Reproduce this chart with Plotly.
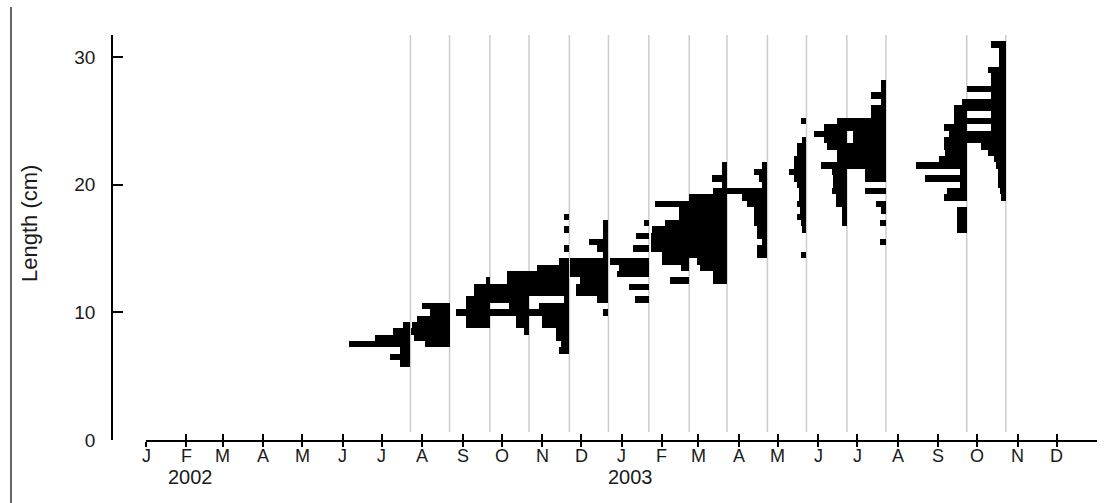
import pandas as pd
import plotly.graph_objects as go

# Length-frequency samples: sampling date, lower length class (cm) and
# counts per consecutive 0.5 cm class starting at that length.
sample_dates = [
    "2002-07-23", "2002-08-22", "2002-09-22", "2002-10-22", "2002-11-22",
    "2002-12-22", "2003-01-22", "2003-02-22", "2003-03-23", "2003-04-23",
    "2003-05-23", "2003-06-23", "2003-07-23", "2003-09-23", "2003-10-23",
]
first_class = [6.0, 7.5, 9.0, 8.5, 7.0, 10.0, 11.0, 12.5, 12.5, 14.5,
               14.5, 17.0, 15.5, 16.5, 19.0]
counts = [
    [10, 20, 10, 62, 35, 17, 7],
    [25, 36, 39, 38, 33, 20, 28],
    [24, 24, 34, 24, 24, 16, 16, 4],
    [5, 13, 13, 40, 20, 40, 40, 40, 22, 22],
    [10, 8, 13, 13, 27, 27, 40, 30, 5, 40, 40, 40, 40, 32, 10, 0, 5, 0, 0, 5, 0, 5],
    [5, 0, 11, 33, 33, 29, 39, 39, 39, 5, 11, 19, 5, 5, 5],
    [14, 0, 20, 0, 32, 30, 39, 0, 16, 0, 13, 0, 5],
    [19, 0, 8, 27, 27, 38, 38, 38, 37, 24, 10, 10, 34],
    [14, 14, 27, 30, 38, 38, 38, 38, 38, 38, 38, 38, 38, 38, 14, 5, 15, 5, 5],
    [10, 10, 5, 10, 10, 13, 13, 13, 20, 25, 40, 5, 8, 13, 5],
    [5, 0, 0, 0, 4, 5, 10, 6, 10, 8, 8, 10, 13, 18, 13, 13, 10, 10, 4, 0, 0, 5],
    [5, 5, 5, 11, 11, 15, 14, 14, 15, 26, 10, 10, 20, 23, 33, 23, 10],
    [6, 0, 0, 6, 0, 5, 10, 0, 21, 0, 21, 21, 40, 40, 40, 40, 33, 33, 40, 40,
     15, 15, 5, 15, 5, 5],
    [10, 10, 10, 10, 0, 23, 20, 7, 42, 7, 51, 28, 22, 23, 23, 18, 23, 13, 13, 13, 5],
    [5, 6, 8, 8, 8, 10, 12, 18, 25, 40, 40, 15, 40, 15, 40, 40, 15, 39, 15, 15,
     18, 7, 7, 7, 15],
]

month_letters = ["J", "F", "M", "A", "M", "J", "J", "A", "S", "O", "N", "D"]
year_labels = ["2002", "2003"]
y_ticks = [0, 10, 20, 30]

CLASS_WIDTH = 0.5          # cm
DAYS_PER_COUNT = 0.767     # horizontal extent of one count, in days
MS_PER_DAY = 86_400_000
Y_MAX = 31.74

W, H = 1110, 503
ML, MR, MT, MB = 112, 13, 35, 63
PW, PH = W - ML - MR, H - MT - MB
FONT = "Liberation Sans, Arial, Helvetica, sans-serif"
INK = "#1a1a1a"


def paper_y(px):
    """Convert a pixel row of the figure into paper coordinates."""
    return (MT + PH - px) / PH


fig = go.Figure()

# Histograms drawn as bars extending leftwards from each sampling date
for date, start, n in zip(sample_dates, first_class, counts):
    classes = [start + i * CLASS_WIDTH for i in range(len(n))]
    pairs = [(c, v) for c, v in zip(classes, n) if v > 0]
    fig.add_trace(go.Bar(
        orientation="h",
        y=[c for c, _ in pairs],
        x=[-v * DAYS_PER_COUNT * MS_PER_DAY for _, v in pairs],
        base=[date] * len(pairs),
        width=CLASS_WIDTH,
        marker=dict(color="black", line=dict(width=0)),
        hoverinfo="skip",
        showlegend=False,
    ))

# Invisible trace so the upper tick axis is rendered
fig.add_trace(go.Scatter(x=["2002-01-01", "2004-01-01"], y=[0, 0], xaxis="x2",
                         mode="markers", marker=dict(opacity=0),
                         hoverinfo="skip", showlegend=False))

month_starts = pd.date_range("2002-01-01", "2003-12-01", freq="MS")
x_dom = [(146 - ML) / PW, 1.0]

common_x = dict(
    type="date", range=["2002-01-01", "2004-01-01"], domain=x_dom,
    tickvals=list(month_starts), showgrid=False, zeroline=False,
    tickcolor="black", tickwidth=1.5, showticklabels=False,
)
fig.update_layout(
    width=W, height=H,
    margin=dict(l=ML, r=MR, t=MT, b=MB, pad=0),
    paper_bgcolor="white", plot_bgcolor="white",
    barmode="overlay", bargap=0, showlegend=False,
    font=dict(family=FONT, color=INK),
    xaxis=dict(**common_x, anchor="y", showline=True, linecolor="black",
               linewidth=1.5, ticks="outside", ticklen=5),
    xaxis2=dict(**common_x, overlaying="x", anchor="y", side="bottom",
                showline=False, ticks="inside", ticklen=6),
    yaxis=dict(range=[0, Y_MAX], anchor="free", position=0, showline=True,
               linecolor="black", linewidth=1.5, ticks="inside", ticklen=10,
               tickwidth=1.5, tickcolor="black", tickvals=y_ticks,
               tickfont=dict(size=19, color=INK), ticklabelstandoff=12,
               showgrid=False, zeroline=False),
)

# Month initials centred under each month tick
for d in month_starts:
    fig.add_annotation(text=month_letters[d.month - 1], x=d, xref="x",
                       y=paper_y(455.5), yref="paper", showarrow=False,
                       xanchor="center", yanchor="middle", borderpad=0,
                       font=dict(size=18, color=INK))

# Sampling-date reference lines behind the histograms
for date in sample_dates:
    fig.add_shape(type="line", xref="x", yref="y", x0=date, x1=date,
                  y0=0.63, y1=Y_MAX, layer="below",
                  line=dict(color="#cccccc", width=1.5))

# Frame edge on the left of the figure
fig.add_shape(type="line", xref="paper", yref="paper",
              x0=(11 - ML) / PW, x1=(11 - ML) / PW,
              y0=paper_y(7), y1=paper_y(H),
              line=dict(color="#666666", width=2))

# Year labels under the month letters
for label, pos in zip(year_labels, ["2002-02-04", "2003-01-08"]):
    fig.add_annotation(text=label, x=pos, xref="x", y=paper_y(477),
                       yref="paper", showarrow=False, xanchor="center",
                       yanchor="middle", borderpad=0,
                       font=dict(size=20, color=INK))

fig.add_annotation(text="Length (cm)", xref="paper", yref="paper",
                   x=(29 - ML) / PW, y=paper_y(224), textangle=-90,
                   showarrow=False, xanchor="center", yanchor="middle",
                   font=dict(size=22, color=INK))

fig.write_html("out.html")
